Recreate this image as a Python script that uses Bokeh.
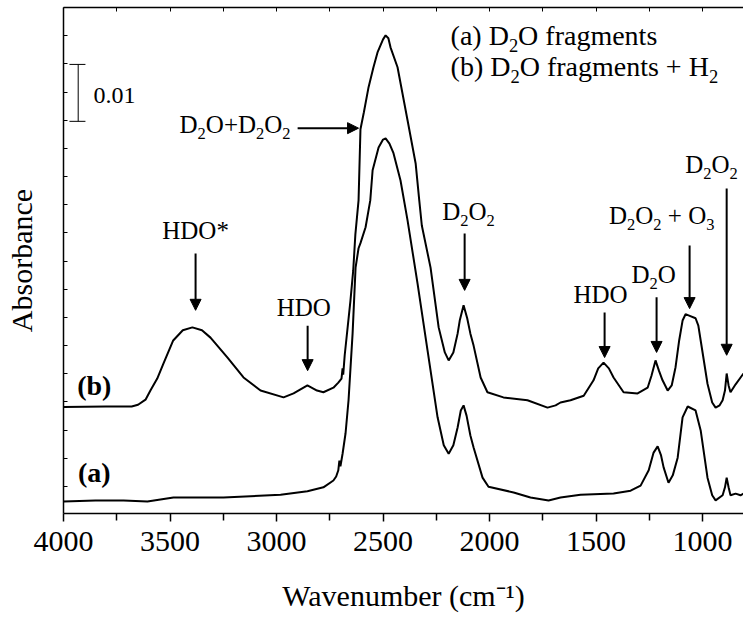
from bokeh.plotting import figure
from bokeh.models import (Range1d, LinearAxis, FixedTicker, Label, Arrow, Grid,
                          NormalHead, CustomJSTickFormatter)
from bokeh.embed import file_html
from bokeh.resources import INLINE

# ---------------- data ----------------
wn_b = [4000, 3800, 3680, 3650, 3615, 3592, 3560, 3530, 3485, 3440, 3395, 3350,
        3310, 3230, 3155, 3075, 2967, 2920, 2855, 2810, 2780, 2733, 2710, 2695,
        2690, 2687, 2680, 2653, 2640, 2630, 2615, 2606, 2590, 2568, 2545, 2526,
        2500, 2488, 2475, 2465, 2432, 2385, 2347, 2330, 2318, 2277, 2239, 2210,
        2192, 2170, 2150, 2140, 2122, 2105, 2090, 2075, 2042, 2010, 1935, 1822,
        1728, 1690, 1667, 1620, 1558, 1512, 1490, 1465, 1440, 1418, 1371, 1305,
        1258, 1240, 1221, 1205, 1188, 1164, 1145, 1127, 1110, 1094, 1080, 1066,
        1033, 1020, 1009, 977, 955, 939, 920, 906, 895, 887, 878, 869, 845, 808]
abs_b = [0.0187, 0.0188, 0.0188, 0.0191, 0.0200, 0.0216, 0.0237, 0.0264, 0.0304,
         0.0322, 0.0327, 0.0322, 0.0309, 0.0274, 0.0239, 0.0216, 0.0204, 0.0211,
         0.0225, 0.0216, 0.0213, 0.0221, 0.0230, 0.0237, 0.0255, 0.0244, 0.0278,
         0.0374, 0.0427, 0.0490, 0.0550, 0.0675, 0.0705, 0.0749, 0.0784, 0.0810,
         0.0833, 0.0840, 0.0835, 0.0819, 0.0784, 0.0691, 0.0615, 0.0550, 0.0506,
         0.0432, 0.0327, 0.0283, 0.0269, 0.0283, 0.0316, 0.0339, 0.0366, 0.0343,
         0.0316, 0.0295, 0.0239, 0.0213, 0.0204, 0.0199, 0.0186, 0.0190, 0.0195,
         0.0199, 0.0207, 0.0234, 0.0255, 0.0265, 0.0255, 0.0239, 0.0213, 0.0211,
         0.0221, 0.0242, 0.0269, 0.0251, 0.0234, 0.0216, 0.0225, 0.0257, 0.0304,
         0.0339, 0.0350, 0.0348, 0.0343, 0.0330, 0.0304, 0.0228, 0.0195, 0.0186,
         0.0190, 0.0199, 0.0216, 0.0246, 0.0225, 0.0213, 0.0227, 0.0246]

wn_a = [4000, 3850, 3718, 3606, 3484, 3249, 2981, 2855, 2780, 2733, 2720, 2710,
        2705, 2700, 2690, 2676, 2662, 2643, 2629, 2615, 2606, 2582, 2560, 2549,
        2521, 2500, 2488, 2470, 2451, 2418, 2385, 2338, 2291, 2244, 2215, 2192,
        2170, 2150, 2135, 2122, 2108, 2090, 2075, 2033, 2005, 1887, 1808, 1723,
        1667, 1573, 1418, 1338, 1291, 1253, 1230, 1211, 1195, 1183, 1160, 1140,
        1117, 1094, 1070, 1033, 1009, 977, 955, 939, 906, 895, 887, 878, 869,
        845, 822, 808]
abs_a = [0.0021, 0.0023, 0.0023, 0.0021, 0.0028, 0.0028, 0.0033, 0.0039, 0.0046,
         0.0058, 0.0065, 0.0076, 0.0093, 0.0083, 0.0105, 0.0141, 0.0199, 0.0316,
         0.0432, 0.0466, 0.0475, 0.0503, 0.0550, 0.0603, 0.0643, 0.0657, 0.0659,
         0.0650, 0.0633, 0.0585, 0.0515, 0.0404, 0.0286, 0.0169, 0.0120, 0.0105,
         0.0120, 0.0151, 0.0181, 0.0190, 0.0172, 0.0137, 0.0116, 0.0063, 0.0047,
         0.0037, 0.0028, 0.0023, 0.0028, 0.0033, 0.0035, 0.0040, 0.0049, 0.0076,
         0.0107, 0.0118, 0.0102, 0.0081, 0.0054, 0.0067, 0.0098, 0.0169, 0.0188,
         0.0181, 0.0146, 0.0063, 0.0032, 0.0023, 0.0032, 0.0046, 0.0063, 0.0046,
         0.0032, 0.0035, 0.0032, 0.0035]

x_ticks = [4000, 3500, 3000, 2500, 2000, 1500, 1000]
x_minor = [3750, 3250, 2750, 2250, 1750, 1250]
y_ticks = [0.00475, 0.0097, 0.01465, 0.0196, 0.02455, 0.0295, 0.03445, 0.0394,
           0.04435, 0.0493, 0.05425, 0.0592, 0.06415, 0.0691, 0.07405, 0.079, 0.0840]

# scale bar (0.01 absorbance)
bar_x = 3931
bar_cap = [3972, 3897]
bar_y = [0.0689, 0.0789]

# annotations ("_" marks the next character as a subscript): (text, x, y, align)
peak_labels = [
    ("HDO*", 3380, 0.0483, "center"),
    ("HDO", 2872, 0.0348, "center"),
    ("D_2O_2", 2099, 0.0517, "center"),
    ("HDO", 1479, 0.0371, "center"),
    ("D_2O", 1230, 0.0406, "center"),
    ("D_2O_2 + O_3", 1192, 0.0510, "center"),
    ("D_2O_2", 958, 0.0599, "center"),
    ("D_2O+D_2O_2", 2934, 0.0670, "right"),
]
# arrows: (x_start, y_start, x_end, y_end)
arrows = [
    (3380, 0.0457, 3380, 0.0357),
    (2854, 0.0330, 2854, 0.0251),
    (2117, 0.0492, 2117, 0.0392),
    (1460, 0.0353, 1460, 0.0274),
    (1216, 0.0380, 1216, 0.0283),
    (1061, 0.0471, 1061, 0.0360),
    (887, 0.0571, 887, 0.0278),
    (2901, 0.0677, 2615, 0.0677),
]
legend_lines = [("(a) D_2O fragments", 2183, 0.0826),
                ("(b) D_2O fragments + H_2", 2183, 0.0772)]
curve_tags = [("(b)", 3936, 0.0211), ("(a)", 3932, 0.0058)]

FONT = "Liberation Serif"
INK = "black"
Y_PER_PX = 0.0889 / 506.0   # data units per screen pixel on the y axis
RAISE = 8 * Y_PER_PX        # baseline correction for the text labels

# Times / Liberation Serif advance widths (per 1000 em) for laying out subscripts
ADV = {" ": 250, "\u00a0": 250, "(": 333, ")": 333, "*": 500, "+": 564, ".": 250,
       "D": 722, "H": 722, "O": 722, "a": 444, "b": 500, "e": 444, "f": 333,
       "g": 500, "m": 778, "n": 500, "r": 333, "s": 389, "t": 278}
for d in "0123456789":
    ADV[d] = 500

p = figure(width=743, height=618, output_backend="svg", toolbar_location=None,
           x_range=Range1d(4000, 808), y_range=Range1d(0, 0.0889),
           x_axis_location=None, y_axis_location=None,
           min_border_left=63, min_border_right=0, min_border_top=7,
           min_border_bottom=105)
p.outline_line_color = None
p.background_fill_color = "white"
p.border_fill_color = "white"
for r in list(p.center):
    if isinstance(r, Grid):
        r.visible = False
        r.grid_line_color = None

empty = CustomJSTickFormatter(code="return ''")

xb = LinearAxis(ticker=FixedTicker(ticks=x_ticks, minor_ticks=x_minor),
                axis_label="Wavenumber (cm\u207b\u00b9)")
xb.axis_label_text_font = FONT
xb.axis_label_text_font_style = "normal"
xb.axis_label_text_font_size = "30px"
xb.axis_label_text_color = INK
xb.axis_label_standoff = 25
xb.major_label_text_font = FONT
xb.major_label_text_font_size = "30px"
xb.major_label_text_color = INK
xb.major_label_standoff = 10
xb.major_tick_in = 0
xb.major_tick_out = 8
xb.minor_tick_in = 0
xb.minor_tick_out = 7
xb.axis_line_width = 1.5
xb.major_tick_line_width = 1.5
xb.minor_tick_line_width = 1.5
p.add_layout(xb, "below")

xt = LinearAxis(ticker=FixedTicker(ticks=x_ticks, minor_ticks=x_minor),
                formatter=empty)
xt.major_label_text_font_size = "0px"
xt.major_label_standoff = 0
xt.major_tick_in = 4
xt.major_tick_out = 0
xt.minor_tick_in = 4
xt.minor_tick_out = 0
xt.axis_line_width = 1.5
p.add_layout(xt, "above")

yl = LinearAxis(ticker=FixedTicker(ticks=y_ticks, minor_ticks=[]),
                formatter=empty, axis_label="Absorbance")
yl.axis_label_text_font = FONT
yl.axis_label_text_font_style = "normal"
yl.axis_label_text_font_size = "30px"
yl.axis_label_text_color = INK
yl.axis_label_standoff = 26
yl.major_label_text_font_size = "0px"
yl.major_label_standoff = 0
yl.major_tick_in = 4
yl.major_tick_out = 0
yl.axis_line_width = 1.5
p.add_layout(yl, "left")

p.line(wn_b, abs_b, line_color=INK, line_width=2)
p.line(wn_a, abs_a, line_color=INK, line_width=2)

# scale bar
p.segment(x0=[bar_x, bar_cap[0], bar_cap[0]], y0=[bar_y[0], bar_y[0], bar_y[1]],
          x1=[bar_x, bar_cap[1], bar_cap[1]], y1=[bar_y[1], bar_y[0], bar_y[1]],
          line_color=INK, line_width=1)
p.add_layout(Label(x=3859, y=0.0721 + RAISE, text="0.01", text_font=FONT,
                   text_font_size="24px", text_align="left", text_color=INK,
                   text_baseline="alphabetic"))


def rich_text(text, x, y, fs, align="left"):
    """Split text into normal and subscript runs and place them as labels."""
    text = text.replace(" ", "\u00a0")
    runs = []
    i = 0
    while i < len(text):
        if text[i] == "_":
            runs.append((text[i + 1], True))
            i += 2
        else:
            j = i
            while j < len(text) and text[j] != "_":
                j += 1
            runs.append((text[i:j], False))
            i = j
    sub_fs = fs * 0.66
    widths = [sum(ADV.get(c, 500) for c in s) * (sub_fs if sub else fs) / 1000.0
              for s, sub in runs]
    total = sum(widths)
    off = {"left": 0.0, "center": -total / 2.0, "right": -total}[align]
    for (s, sub), w in zip(runs, widths):
        yy = y + RAISE - (0.36 * fs * Y_PER_PX if sub else 0.0)
        p.add_layout(Label(x=x, y=yy, x_offset=off, text=s,
                           text_font=FONT,
                           text_font_size="%.1fpx" % (sub_fs if sub else fs),
                           text_color=INK, text_align="left",
                           text_baseline="alphabetic"))
        off += w


for t, x, y, al in peak_labels:
    rich_text(t, x, y, 25, al)
for xs, ys, xe, ye in arrows:
    p.add_layout(Arrow(end=NormalHead(size=11, fill_color=INK, line_color=INK),
                       x_start=xs, y_start=ys, x_end=xe, y_end=ye,
                       line_color=INK, line_width=2))
for t, x, y in legend_lines:
    rich_text(t, x, y, 28, "left")
for t, x, y in curve_tags:
    p.add_layout(Label(x=x, y=y + RAISE, text=t, text_font=FONT,
                       text_font_size="28px", text_font_style="bold",
                       text_color=INK, text_align="left",
                       text_baseline="alphabetic"))

open("out.html", "w").write(file_html(p, INLINE))
